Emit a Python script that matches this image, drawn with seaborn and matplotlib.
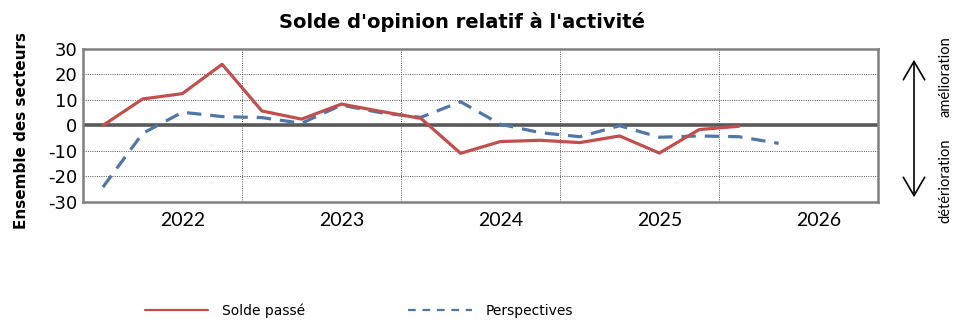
import numpy as np
import pandas as pd
import matplotlib
matplotlib.use("Agg")
import matplotlib.pyplot as plt
import seaborn as sns
from matplotlib.lines import Line2D
from matplotlib.patches import FancyArrowPatch

# Quarterly survey balances, 2022 Q1 to 2026 Q4
years = ["2022", "2023", "2024", "2025", "2026"]
quarters = [f"T{q} {y}" for y in years for q in range(1, 5)]

solde_passe = [0.0, 10.4, 12.5, 24.0, 5.7, 2.5, 8.4, 5.5, 2.8, -10.9, -6.3, -5.8,
               -6.7, -4.1, -10.8, -1.6, -0.3, None, None, None]
perspectives = [-24.2, -3.1, 5.2, 3.5, 3.1, 0.9, 8.0, 5.0, 3.2, 9.3, 0.5, -2.8,
                -4.4, -0.1, -4.6, -4.1, -4.4, -7.0, None, None]

series_names = ["Solde passé", "Perspectives"]
colors = ["#C0504D", "#4F77A8"]

df = pd.DataFrame({
    "pos": np.arange(len(quarters)),
    "trimestre": quarters,
    series_names[0]: pd.array(solde_passe, dtype="Float64"),
    series_names[1]: pd.array(perspectives, dtype="Float64"),
})
long = df.melt(id_vars=["pos", "trimestre"], value_vars=series_names,
               var_name="serie", value_name="valeur").dropna()
long["valeur"] = long["valeur"].astype(float)

sns.set_theme(style="white")
plt.rcParams["font.family"] = ["DejaVu Sans"]
plt.rcParams["axes.unicode_minus"] = False
for key in ["text.color", "xtick.color", "ytick.color", "axes.labelcolor"]:
    plt.rcParams[key] = "black"

fig = plt.figure(figsize=(9.56, 3.21), dpi=100)
ax = fig.add_axes([83 / 956, 1 - 202 / 321, 795 / 956, 153 / 321])

# horizontal dotted grid and zero line
for yv in [-20, -10, 10, 20]:
    ax.axhline(yv, color="#555555", lw=0.7, ls=(0, (1, 1.3)), zorder=1)
ax.axhline(0, color="#595959", lw=2.6, zorder=2)
# year separators
for i in range(1, len(years)):
    ax.axvline(4 * i - 0.5, color="#555555", lw=0.7, ls=(0, (1, 1.3)), zorder=1)

sns.lineplot(data=long[long["serie"] == series_names[0]], x="pos", y="valeur",
             color=colors[0], lw=2.3, ax=ax, zorder=4, legend=False)
sns.lineplot(data=long[long["serie"] == series_names[1]], x="pos", y="valeur",
             color=colors[1], lw=2.3, ax=ax, zorder=3, legend=False)
ax.lines[-1].set_dashes([4.5, 2.8])

ax.set_xlim(-0.5, len(quarters) - 0.5)
ax.set_ylim(-30, 30)
ax.set_yticks(range(-30, 31, 10))
ax.set_yticklabels([str(v) for v in range(-30, 31, 10)], fontsize=13)
ax.set_xticks([4 * i + 2 for i in range(len(years))])
ax.set_xticklabels(years, fontsize=14, family="Lato")
ax.tick_params(axis="both", length=0, pad=4)
ax.tick_params(axis="x", pad=7)
ax.set_xlabel("")
ax.set_ylabel("")
for s in ax.spines.values():
    s.set_color("#808080")
    s.set_linewidth(1.8)

fig.text(462 / 956, 1 - 22 / 321, "Solde d'opinion relatif à l'activité",
         ha="center", va="center", fontsize=14, fontweight="bold")
fig.text(22 / 956, 1 - 130 / 321, "Ensemble des secteurs", rotation=90,
         ha="center", va="center", fontsize=11, fontweight="bold")

# right-hand direction arrow
fig.patches.append(FancyArrowPatch(
    (914 / 956, 1 - 57 / 321), (914 / 956, 1 - 200 / 321),
    transform=fig.transFigure, arrowstyle="<->,head_length=6,head_width=3.5",
    color="black", lw=1.2, mutation_scale=2.2))
fig.text(945 / 956, 1 - 77 / 321, "amélioration", rotation=90, ha="center",
         va="center", fontsize=10.5, family="Lato")
fig.text(945 / 956, 1 - 181 / 321, "détérioration", rotation=90, ha="center",
         va="center", fontsize=10.5, family="Lato")

# legend
handles = [Line2D([], [], color=colors[0], lw=1.6),
           Line2D([], [], color=colors[1], lw=1.6, dashes=[3.5, 3])]
fig.legend(handles, series_names, loc="center left",
           bbox_to_anchor=(132 / 956, 1 - 311 / 321), ncol=2, frameon=False,
           fontsize=10, handlelength=4.6, handletextpad=1.0, columnspacing=7.4)

fig.savefig("out.png", dpi=100)
